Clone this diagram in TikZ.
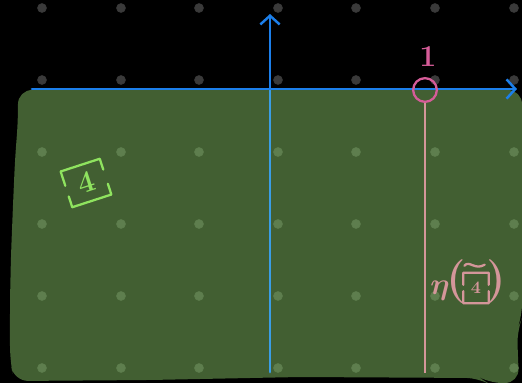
\documentclass[tikz,border=0pt]{standalone}
\usepackage{amsmath}
\usetikzlibrary{arrows.meta,calc}

\definecolor{boardgreen}{HTML}{425F32}
\definecolor{greendot}{HTML}{5E7E4E}
\definecolor{greydot}{HTML}{3A3A3A}
\definecolor{axisblue}{HTML}{1C7FEA}
\definecolor{axislight}{HTML}{3A9DE4}
\definecolor{rimpink}{HTML}{D4969A}
\definecolor{markpink}{HTML}{D65C98}
\definecolor{chalkgreen}{HTML}{8FE35F}

\tikzset{
  axis/.style={axisblue, line width=1.6pt, line cap=round},
  barb/.style={-{Straight Barb[length=5pt,width=11pt,line width=1.4pt]}},
  chalk/.style={line width=1.3pt, line cap=round, line join=round},
}

\begin{document}
\begin{tikzpicture}[x=0.02cm, y=-0.02cm]

  \def\dotradius{4.4}

  % board
  \fill[black] (0,0) rectangle (522,383);
  \useasboundingbox (0,0) rectangle (522,383);

  \foreach \x in {42,121,199,278,356,435,514} {
    \foreach \y in {8,80} {
      \filldraw[greydot] (\x, \y) circle (\dotradius);
    }
  }

  \fill[boardgreen, rounded corners=8pt]
    (18,90) -- (522,90) -- (522,318) -- (517,330) -- (519,383)
    -- (488,383) -- (480,378) -- (300,377) -- (150,380) -- (14,381)
    -- (10,360) -- (10,300) -- (11,255) -- (13,205) -- (15,160) -- (18,120) -- cycle;

  \foreach \x in {42,121,199,278,356,435,514} {
    \foreach \y in {152,224,296,368} {
      \filldraw[greendot] (\x, \y) circle (\dotradius);
    }
  }

  % axes
  \coordinate (o) at (270,89);
  \coordinate (xl) at (32,89);
  \coordinate (xr) at (517,89);
  \coordinate (yt) at (270,14);
  \coordinate (yb) at (270,372);

  \draw[axis, axislight] (o) -- (yb);
  \draw[axis, barb] (xl) -- (xr);
  \draw[axis, barb] (o) -- (yt);

  % the point 1 and its line
  \node[draw=markpink, line width=1.3pt, circle, inner sep=0pt, minimum size=13.5pt] (one) at (425,90) {};
  \node[markpink, font=\fontsize{16}{18}\selectfont\boldmath] (onelabel) at (428,57) {$1$};
  \coordinate (pb) at (425,373);
  \draw[rimpink, line width=1.5pt] (one.south) -- (pb);

  % green label
  \node[chalkgreen, rotate=18, minimum width=23pt, minimum height=21pt, inner sep=0pt,
        font=\LARGE\boldmath] (sq) at (86,183) {$4$};
  \draw[chalkgreen, chalk]
    ($(sq.north west)!0.4!(sq.south west)$) -- (sq.north west) -- (sq.north east)
    -- ($(sq.north east)!0.3!(sq.south east)$);
  \draw[chalkgreen, chalk]
    ($(sq.south east)!0.3!(sq.north east)$) -- (sq.south east) -- (sq.south west)
    -- ($(sq.south west)!0.3!(sq.north west)$);

  % pink label
  \node[rimpink, font=\fontsize{17}{19}\selectfont\boldmath] (eta) at (440,291) {$\eta$};
  \node[rimpink, font=\fontsize{24}{26}\selectfont\boldmath, inner sep=0pt] (lpar) at (456,282) {$($};
  \node[rimpink, minimum width=14pt, minimum height=17pt, inner sep=0pt,
        font=\normalsize\boldmath] (sqb) at (476,288) {$4$};
  \draw[rimpink, chalk]
    ($(sqb.north west)!0.4!(sqb.south west)$) -- (sqb.north west) -- (sqb.north east)
    -- ($(sqb.north east)!0.4!(sqb.south east)$);
  \draw[rimpink, chalk]
    ($(sqb.south east)!0.4!(sqb.north east)$) -- (sqb.south east) -- (sqb.south west)
    -- ($(sqb.south west)!0.4!(sqb.north west)$);
  \coordinate (tl) at ($(sqb.north west)+(1,-7)$);
  \coordinate (tr) at ($(sqb.north east)+(-4,-8)$);
  \draw[rimpink, chalk] (tl) .. controls ($(tl)+(5,-6)$) and ($(tr)+(-10,6)$) .. (tr);
  \node[rimpink, font=\fontsize{24}{26}\selectfont\boldmath, inner sep=0pt] (rpar) at (496,282) {$)$};

\end{tikzpicture}
\end{document}
